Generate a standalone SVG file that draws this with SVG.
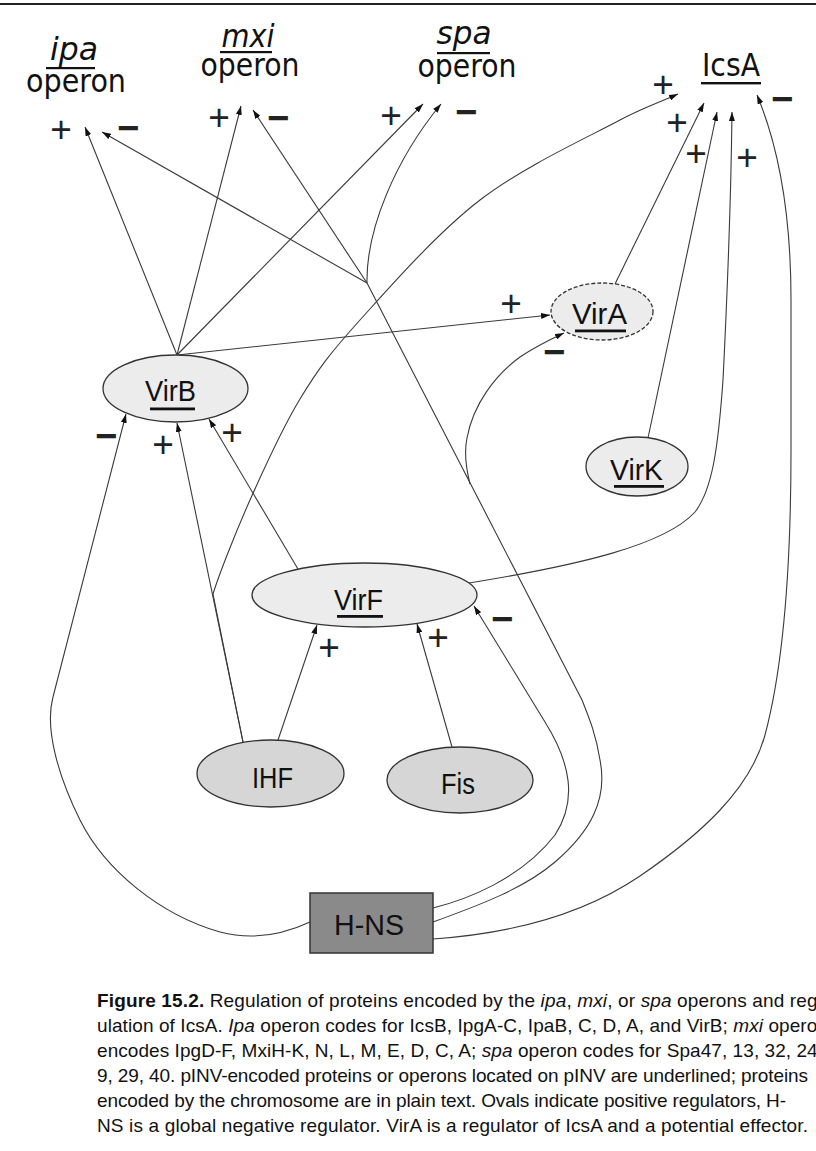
<svg xmlns="http://www.w3.org/2000/svg" width="816" height="1151" viewBox="0 0 816 1151">
<style>
.edge{fill:none;stroke:#3a3a3a;stroke-width:1.1}
.arrow{marker-end:url(#ah)}
.node{stroke:#333;stroke-width:1.3}
.light{fill:#ececec}
.mid{fill:#d6d6d6}
.lbl{font-family:"Liberation Sans",Arial,sans-serif;font-size:29px;fill:#111;text-anchor:middle}
.gene{font-family:"DejaVu Sans",sans-serif;font-size:32px;fill:#111;text-anchor:middle}
.it{font-style:italic}
.ul{fill:#111}
.plus{font-family:"Liberation Sans",Arial,sans-serif;font-size:37px;fill:#222;text-anchor:middle}
.minus{font-family:"Liberation Sans",Arial,sans-serif;font-size:38px;font-weight:bold;fill:#222;text-anchor:middle}
.cap{font-family:"Liberation Sans",Arial,sans-serif;font-size:19px;fill:#111}
</style>
<defs>
<marker id="ah" markerUnits="userSpaceOnUse" markerWidth="9" markerHeight="6" refX="9" refY="3" orient="auto">
<path d="M0,0 L9,3 L0,6 z" fill="#111"/>
</marker>
</defs>
<rect width="816" height="1151" fill="#fff"/>
<line x1="0" y1="4" x2="816" y2="4" stroke="#222" stroke-width="2"/>

<!-- regulatory links -->
<g id="connectors" class="edge">
<path class="arrow" d="M177,355 L85,127"/>
<path class="arrow" d="M177,355 L241,106"/>
<path class="arrow" d="M177,355 L423,104"/>
<path class="arrow" d="M177,355 L550,315"/>
<path class="arrow" d="M367,283 L102,132"/>
<path class="arrow" d="M367,283 L253,110"/>
<path class="arrow" d="M367,283 C366,230 395,160 441,104"/>
<path d="M433,922 C480,905 525,888 555,862 C590,832 608,800 600,760 C596,735 590,720 582,700 L367,283"/>
<path class="arrow" d="M470,484 C466,468 464,452 467,438 C473,405 495,375 520,357 C535,347 549,340 564,333"/>
<path class="arrow" d="M433,908 C465,900 520,880 555,835 C578,800 570,762 545,722 L474,606"/>
<path class="arrow" d="M433,939 C520,933 590,910 640,876 C700,835 750,790 765,735 C785,660 791,560 791,450 L791,300 C791,220 780,150 757,95"/>
<path class="arrow" d="M310,922 C280,936 250,940 220,932 C160,915 105,870 80,820 C60,780 44,730 53,697 L126,414"/>
<path class="arrow" d="M243,742 L177,423"/>
<path class="arrow" d="M243,742 L213,594 C218.7,575.7 235.5,532.5 250,500 C264.5,467.5 281.7,429 300,399 C318.3,369 330,353.2 360,320 C390,286.8 436.7,233.3 480,200 C523.3,166.7 587,137.7 620,120 C640,109 659,102.5 678,94"/>
<path class="arrow" d="M278,740 L317,625"/>
<path class="arrow" d="M452,747 L417,624"/>
<path class="arrow" d="M298,569 L209,419"/>
<path class="arrow" d="M615,284 L704,103"/>
<path class="arrow" d="M648,438 L717,112"/>
<path class="arrow" d="M469,583 C580,565 665,545 695,512 C712,490 718,450 723,380 C727,300 731,200 732,112"/>
</g>

<!-- operons and target gene -->
<g id="ipa">
<text class="gene it" x="74" y="60" textLength="48" lengthAdjust="spacingAndGlyphs">ipa</text>
<rect class="ul" x="46" y="67" width="49" height="2.2"/>
<text class="gene" x="76" y="92" textLength="100" lengthAdjust="spacingAndGlyphs">operon</text>
</g>
<g id="mxi">
<text class="gene it" x="248" y="47" textLength="53" lengthAdjust="spacingAndGlyphs">mxi</text>
<rect class="ul" x="220" y="51" width="52" height="2.2"/>
<text class="gene" x="250" y="76" textLength="99" lengthAdjust="spacingAndGlyphs">operon</text>
</g>
<g id="spa">
<text class="gene it" x="464" y="44" textLength="55" lengthAdjust="spacingAndGlyphs">spa</text>
<rect class="ul" x="437" y="52" width="53" height="2.2"/>
<text class="gene" x="467" y="77" textLength="99" lengthAdjust="spacingAndGlyphs">operon</text>
</g>
<g id="IcsA">
<text class="gene" x="731" y="76" font-size="24" textLength="58" lengthAdjust="spacingAndGlyphs">IcsA</text>
<rect class="ul" x="701" y="82" width="60" height="2.4"/>
</g>

<!-- regulators -->
<g id="VirB">
<ellipse class="node light" cx="175.5" cy="388.5" rx="72.5" ry="33.5"/>
<text class="lbl" x="170.5" y="401" textLength="51" lengthAdjust="spacingAndGlyphs">VirB</text>
<rect class="ul" x="150" y="407.5" width="45" height="2.8"/>
</g>
<g id="VirA">
<ellipse class="node light" cx="602" cy="311.5" rx="51" ry="28.5" stroke-dasharray="4 2"/>
<text class="lbl" x="599.5" y="324" textLength="55" lengthAdjust="spacingAndGlyphs">VirA</text>
<rect class="ul" x="575" y="329.5" width="51" height="2.8"/>
</g>
<g id="VirK">
<ellipse class="node light" cx="637" cy="466.5" rx="51" ry="29.5"/>
<text class="lbl" x="636.5" y="480" textLength="53" lengthAdjust="spacingAndGlyphs">VirK</text>
<rect class="ul" x="614" y="485" width="50" height="2.8"/>
</g>
<g id="VirF">
<ellipse class="node light" cx="364.5" cy="595" rx="112.5" ry="32"/>
<text class="lbl" x="358.5" y="610" textLength="49" lengthAdjust="spacingAndGlyphs">VirF</text>
<rect class="ul" x="337" y="615" width="46" height="2.8"/>
</g>
<g id="IHF">
<ellipse class="node mid" cx="270.5" cy="773.5" rx="73.5" ry="33.5"/>
<text class="lbl" x="272.5" y="788" textLength="41" lengthAdjust="spacingAndGlyphs">IHF</text>
</g>
<g id="Fis">
<ellipse class="node mid" cx="460" cy="780" rx="73" ry="33"/>
<text class="lbl" x="458" y="794" textLength="34" lengthAdjust="spacingAndGlyphs">Fis</text>
</g>
<g id="H-NS">
<rect x="310" y="893" width="123" height="60" fill="#8a8a8a" stroke="#333" stroke-width="1.5"/>
<text class="lbl" x="369" y="935" font-size="31" textLength="70" lengthAdjust="spacingAndGlyphs">H-NS</text>
</g>

<!-- effect signs -->
<g id="signs">
<text class="plus" x="61" y="142">+</text>
<text class="minus" x="128" y="141">−</text>
<text class="plus" x="219" y="130">+</text>
<text class="minus" x="278" y="131">−</text>
<text class="plus" x="391" y="128">+</text>
<text class="minus" x="466" y="125">−</text>
<text class="plus" x="663" y="97">+</text>
<text class="plus" x="677" y="135">+</text>
<text class="plus" x="696" y="166">+</text>
<text class="plus" x="747" y="170">+</text>
<text class="minus" x="782" y="112">−</text>
<text class="plus" x="511" y="316">+</text>
<text class="minus" x="554" y="365">−</text>
<text class="minus" x="106" y="449">−</text>
<text class="plus" x="163" y="457">+</text>
<text class="plus" x="232" y="445">+</text>
<text class="plus" x="329" y="660">+</text>
<text class="plus" x="438" y="650">+</text>
<text class="minus" x="502" y="632">−</text>
</g>

<!-- legend -->
<g id="caption" class="cap">
<text x="97" y="1007" textLength="727"><tspan font-weight="bold">Figure 15.2.</tspan>  Regulation of proteins encoded by the <tspan class="it">ipa</tspan>, <tspan class="it">mxi</tspan>, or <tspan class="it">spa</tspan> operons and reg-</text>
<text x="97" y="1032" textLength="731">ulation of IcsA. <tspan class="it">Ipa</tspan> operon codes for IcsB, IpgA-C, IpaB, C, D, A, and VirB; <tspan class="it">mxi</tspan> operon</text>
<text x="97" y="1057" textLength="726">encodes IpgD-F, MxiH-K, N, L, M, E, D, C, A; <tspan class="it">spa</tspan> operon codes for Spa47, 13, 32, 24,</text>
<text x="97" y="1082" textLength="711">9, 29, 40. pINV-encoded proteins or operons located on pINV are underlined; proteins</text>
<text x="97" y="1107" textLength="689">encoded by the chromosome are in plain text. Ovals indicate positive regulators, H-</text>
<text x="97" y="1132" textLength="711">NS is a global negative regulator. VirA is a regulator of IcsA and a potential effector.</text>
</g>
</svg>
